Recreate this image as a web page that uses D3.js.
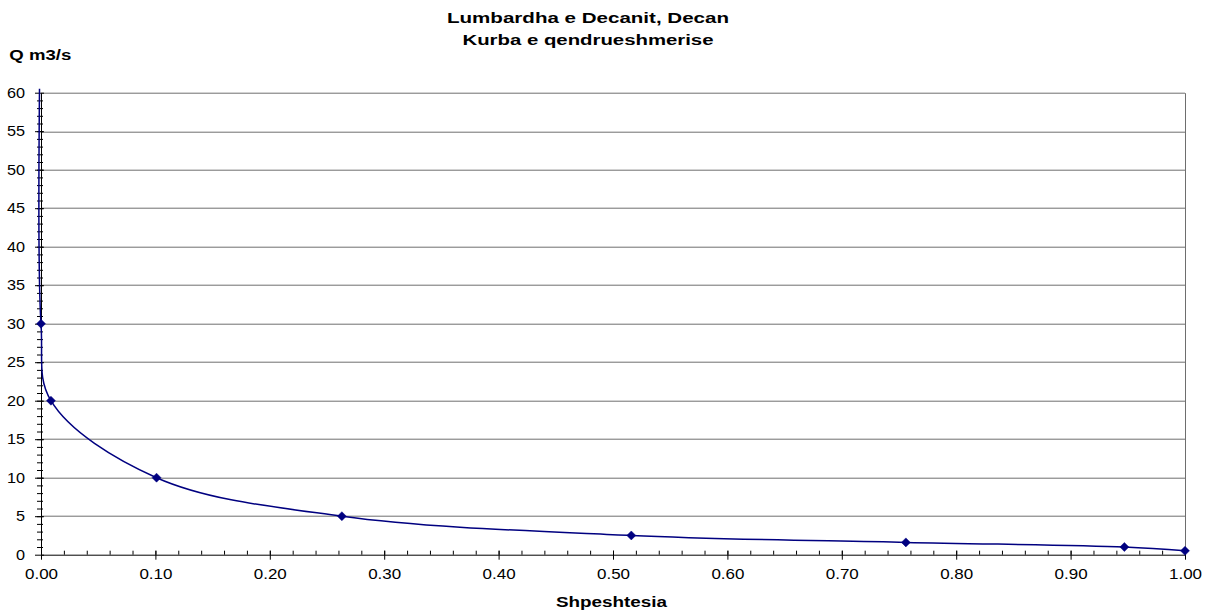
<!DOCTYPE html>
<html>
<head>
<meta charset="utf-8">
<script src="https://cdn.jsdelivr.net/npm/d3@7"></script>
<style>
  body { margin: 0; background: #fff; }
  svg { display: block; font-family: "Liberation Sans", Arial, sans-serif; }
</style>
</head>
<body>
<div class="svgWrapper"></div>
<script>
// Data //
const probability = [0, 0, 0.0087, 0.101, 0.263, 0.516, 0.756, 0.947, 1.0];
const discharge = [75, 30, 20, 10, 5, 2.5, 1.6, 1.0, 0.5];
const xTicks = [0, 0.1, 0.2, 0.3, 0.4, 0.5, 0.6, 0.7, 0.8, 0.9, 1.0];
const yTicks = [0, 5, 10, 15, 20, 25, 30, 35, 40, 45, 50, 55, 60];
const titleLines = ["Lumbardha e Decanit, Decan", "Kurba e qendrueshmerise"];

// Styles //
const svgStyles = { w: 1214, h: 612 };
const chartStyles = {
  margin: { top: 92.7, left: 41, right: 29, bottom: 57.3 }
};
chartStyles.w = svgStyles.w - chartStyles.margin.left - chartStyles.margin.right;
chartStyles.h = svgStyles.h - chartStyles.margin.top - chartStyles.margin.bottom;

const navy = "#000080";
const grid = "#6e6e6e";

// stretch text horizontally like the original export
function stretch(sel, width) {
  sel.each(function() {
    const len = this.getComputedTextLength();
    const w = typeof width === "function" ? width(len) : width;
    d3.select(this).attr("textLength", w).attr("lengthAdjust", "spacingAndGlyphs");
  });
}

let svg = d3
  .select(".svgWrapper")
  .append("svg")
  .attr("width", svgStyles.w)
  .attr("height", svgStyles.h);

// titles
const titleWidths = [282, 251];
svg
  .selectAll(".title")
  .data(titleLines)
  .enter()
  .append("text")
  .attr("class", "title")
  .attr("x", 588)
  .attr("y", (d, i) => 23 + i * 21.5)
  .attr("text-anchor", "middle")
  .style("font-size", "14px")
  .style("font-weight", "bold")
  .text(d => d)
  .each(function(d, i) {
    stretch(d3.select(this), titleWidths[i]);
  });

svg
  .append("text")
  .attr("x", 9.3)
  .attr("y", 60)
  .style("font-size", "14px")
  .style("font-weight", "bold")
  .text("Q m3/s")
  .call(stretch, 62);

svg
  .append("text")
  .attr("x", 611.5)
  .attr("y", 607)
  .attr("text-anchor", "middle")
  .style("font-size", "14px")
  .style("font-weight", "bold")
  .text("Shpeshtesia")
  .call(stretch, 111);

let chart = svg
  .append("g")
  .attr("transform", `translate(${chartStyles.margin.left}, ${chartStyles.margin.top})`);

const xScale = d3.scaleLinear().domain([0, 1]).range([0, chartStyles.w]);
const yScale = d3.scaleLinear().domain([0, 60]).range([chartStyles.h, 0]);

// gridlines
chart
  .selectAll(".grid")
  .data(yTicks.slice(1))
  .enter()
  .append("line")
  .attr("x1", 0)
  .attr("x2", chartStyles.w)
  .attr("y1", d => Math.round(yScale(d)) + 0.5)
  .attr("y2", d => Math.round(yScale(d)) + 0.5)
  .attr("stroke", grid)
  .attr("stroke-width", 1);

chart
  .append("line")
  .attr("x1", chartStyles.w + 0.5)
  .attr("x2", chartStyles.w + 0.5)
  .attr("y1", Math.round(yScale(60)) + 0.5)
  .attr("y2", chartStyles.h)
  .attr("stroke", grid);

// minor ticks X
chart
  .append("g")
  .attr("transform", `translate(0, ${chartStyles.h})`)
  .call(
    d3.axisTop(xScale)
      .tickValues(d3.range(0.02, 1, 0.02))
      .tickSizeInner(4)
      .tickSizeOuter(0)
      .tickFormat("")
  )
  .call(g => g.select(".domain").remove());

// minor ticks Y
chart
  .append("g")
  .call(
    d3.axisLeft(yScale)
      .tickValues(d3.range(1, 60, 1))
      .tickSizeInner(4)
      .tickSizeOuter(0)
      .tickFormat("")
  )
  .call(g => g.select(".domain").remove())
  .call(g => g.selectAll("line").attr("x1", 2));

// X axis
chart
  .append("g")
  .attr("id", "x-axis")
  .attr("transform", `translate(0, ${chartStyles.h})`)
  .call(
    d3.axisBottom(xScale)
      .tickValues(xTicks)
      .tickFormat(d3.format(".2f"))
      .tickSizeInner(5)
      .tickSizeOuter(0)
      .tickPadding(9)
  )
  .call(g => g.selectAll("line").attr("y1", -4))
  .call(g =>
    g.selectAll("text")
      .style("font-size", "14.5px")
      .style("font-family", "Liberation Sans, Arial, sans-serif")
      .attr("fill", "#000")
      .call(stretch, len => len * 1.17)
  );

// Y axis
chart
  .append("g")
  .attr("id", "y-axis")
  .call(
    d3.axisLeft(yScale)
      .tickValues(yTicks)
      .tickSizeInner(6)
      .tickSizeOuter(0)
      .tickPadding(10)
  )
  .call(g => g.selectAll("line").attr("x1", 3))
  .call(g =>
    g.selectAll("text")
      .style("font-size", "14.5px")
      .style("font-family", "Liberation Sans, Arial, sans-serif")
      .attr("fill", "#000")
      .call(stretch, len => len * 1.12)
  );

// clip for the series
chart
  .append("clipPath")
  .attr("id", "plotClip")
  .append("rect")
  .attr("x", -6)
  .attr("y", yScale(60) - 4)
  .attr("width", chartStyles.w + 12)
  .attr("height", chartStyles.h - yScale(60) + 10);

const series = probability.map((p, i) => ({ p: p, q: discharge[i] }));

const line = d3
  .line()
  .x(d => xScale(d.p))
  .y(d => yScale(d.q))
  .curve(d3.curveCatmullRom.alpha(0.5));

const plot = chart.append("g").attr("clip-path", "url(#plotClip)");

plot
  .append("path")
  .datum(series)
  .attr("d", line)
  .attr("fill", "none")
  .attr("stroke", navy)
  .attr("stroke-width", 1.5);

// diamond markers
plot
  .selectAll(".marker")
  .data(series.filter(d => d.q <= 60))
  .enter()
  .append("path")
  .attr("class", "marker")
  .attr("transform", d => `translate(${xScale(d.p)}, ${yScale(d.q)})`)
  .attr("d", "M0,-4.5L4.5,0L0,4.5L-4.5,0Z")
  .attr("fill", navy)
  .attr("stroke", navy)
  .attr("stroke-width", 0.5);
</script>
</body>
</html>
